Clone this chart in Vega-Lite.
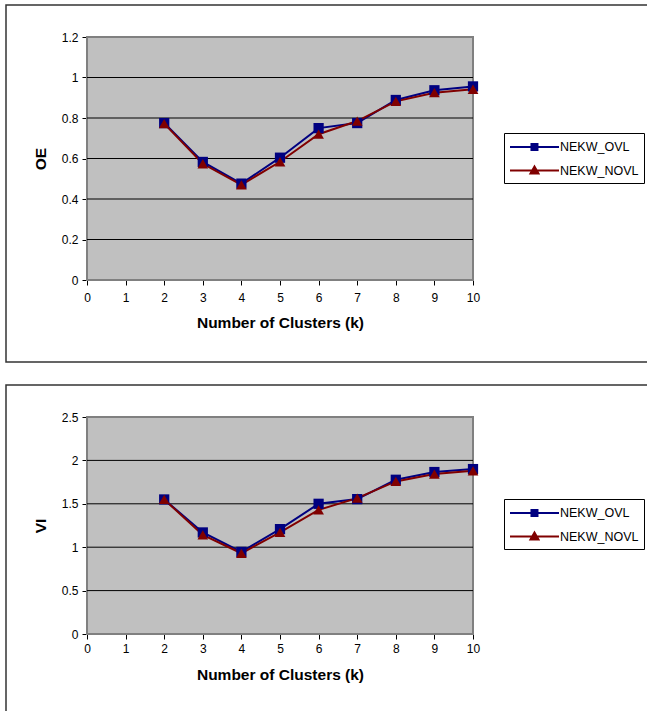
{
  "$schema": "https://vega.github.io/schema/vega-lite/v6.json",
  "padding": {"left": 5, "top": 4, "right": 0, "bottom": 0},
  "spacing": 21,
  "background": "white",
  "config": {
    "view": {"stroke": "#333333", "strokeWidth": 1.5},
    "font": "Liberation Sans",
    "axis": {
      "grid": false,
      "domainColor": "black",
      "domainWidth": 1.2,
      "tickColor": "black",
      "tickSize": 5,
      "labelFlush": false,
      "labelColor": "black",
      "labelFont": "Liberation Sans",
      "labelFontSize": 12,
      "titleColor": "black",
      "titleFont": "Liberation Sans",
      "titleFontSize": 15.5,
      "titleFontWeight": "bold",
      "zindex": 1
    },
    "legend": {
      "orient": "none",
      "strokeColor": "black",
      "fillColor": "white",
      "padding": 5,
      "symbolSize": 256,
      "symbolStrokeWidth": 2,
      "symbolOpacity": 1,
      "labelFont": "Liberation Sans",
      "labelFontSize": 12.5,
      "labelColor": "black",
      "labelOffset": 33,
      "rowPadding": 7.6
    }
  },
  "datasets": {
    "clusters": [
      {"k": 2, "series": "NEKW_OVL", "OE": 0.775, "VI": 1.55},
      {"k": 3, "series": "NEKW_OVL", "OE": 0.583, "VI": 1.17},
      {"k": 4, "series": "NEKW_OVL", "OE": 0.476, "VI": 0.946},
      {"k": 5, "series": "NEKW_OVL", "OE": 0.604, "VI": 1.208},
      {"k": 6, "series": "NEKW_OVL", "OE": 0.75, "VI": 1.5},
      {"k": 7, "series": "NEKW_OVL", "OE": 0.775, "VI": 1.554},
      {"k": 8, "series": "NEKW_OVL", "OE": 0.889, "VI": 1.777},
      {"k": 9, "series": "NEKW_OVL", "OE": 0.937, "VI": 1.866},
      {"k": 10, "series": "NEKW_OVL", "OE": 0.956, "VI": 1.9},
      {"k": 2, "series": "NEKW_NOVL", "OE": 0.772, "VI": 1.55},
      {"k": 3, "series": "NEKW_NOVL", "OE": 0.574, "VI": 1.142},
      {"k": 4, "series": "NEKW_NOVL", "OE": 0.47, "VI": 0.93},
      {"k": 5, "series": "NEKW_NOVL", "OE": 0.584, "VI": 1.17},
      {"k": 6, "series": "NEKW_NOVL", "OE": 0.72, "VI": 1.43},
      {"k": 7, "series": "NEKW_NOVL", "OE": 0.785, "VI": 1.565},
      {"k": 8, "series": "NEKW_NOVL", "OE": 0.882, "VI": 1.758},
      {"k": 9, "series": "NEKW_NOVL", "OE": 0.925, "VI": 1.843},
      {"k": 10, "series": "NEKW_NOVL", "OE": 0.942, "VI": 1.88}
    ]
  },
  "resolve": {
    "scale": {"color": "independent", "shape": "independent"},
    "legend": {"color": "independent", "shape": "independent"}
  },
  "vconcat": [
    {
      "width": 643,
      "height": 357,
      "data": {"name": "clusters"},
      "layer": [
        {
          "data": {"values": [{}]},
          "mark": {"type": "rect", "fill": "#c0c0c0", "stroke": "#808080", "strokeWidth": 2},
          "encoding": {
            "x": {"datum": 0, "type": "quantitative", "scale": {"domain": [0, 10], "range": [81, 467], "nice": false, "zero": false}},
            "x2": {"datum": 10},
            "y": {"datum": 0, "type": "quantitative", "scale": {"domain": [0, 1.2], "range": [275, 32], "nice": false, "zero": false}},
            "y2": {"datum": 1.2}
          }
        },
        {
          "data": {"values": [{"g": 0.2}, {"g": 0.4}, {"g": 0.6}, {"g": 0.8}, {"g": 1.0}]},
          "mark": {"type": "rule", "color": "black", "strokeWidth": 1},
          "encoding": {
            "x": {"datum": 0, "type": "quantitative", "scale": {"domain": [0, 10], "range": [81, 467], "nice": false, "zero": false}},
            "x2": {"datum": 10},
            "y": {"field": "g", "type": "quantitative", "scale": {"domain": [0, 1.2], "range": [275, 32], "nice": false, "zero": false}}
          }
        },
        {
          "transform": [{"filter": "datum.series == 'NEKW_OVL'"}],
          "mark": {"type": "line", "strokeWidth": 2, "color": "#000080"},
          "encoding": {
            "x": {"field": "k", "type": "quantitative", "scale": {"domain": [0, 10], "range": [81, 467], "nice": false, "zero": false},
              "axis": {"title": "Number of Clusters (k)", "values": [0, 1, 2, 3, 4, 5, 6, 7, 8, 9, 10], "format": "d", "offset": -82, "labelPadding": 7, "titlePadding": 12}},
            "y": {"field": "OE", "type": "quantitative", "scale": {"domain": [0, 1.2], "range": [275, 32], "nice": false, "zero": false},
              "axis": {"title": "OE", "values": [0, 0.2, 0.4, 0.6, 0.8, 1, 1.2], "format": "~g", "offset": -81, "labelPadding": 4, "titlePadding": 13}},
            "order": {"field": "k", "type": "quantitative"}
          }
        },
        {
          "transform": [{"filter": "datum.series == 'NEKW_NOVL'"}],
          "mark": {"type": "line", "strokeWidth": 2, "color": "#800000"},
          "encoding": {
            "x": {"field": "k", "type": "quantitative", "scale": {"domain": [0, 10], "range": [81, 467], "nice": false, "zero": false}},
            "y": {"field": "OE", "type": "quantitative", "scale": {"domain": [0, 1.2], "range": [275, 32], "nice": false, "zero": false}},
            "order": {"field": "k", "type": "quantitative"}
          }
        },
        {
          "transform": [{"filter": "datum.series == 'NEKW_OVL'"}],
          "mark": {"type": "square", "filled": true, "opacity": 1, "size": 105, "color": "#000080"},
          "encoding": {
            "x": {"field": "k", "type": "quantitative", "scale": {"domain": [0, 10], "range": [81, 467], "nice": false, "zero": false}},
            "y": {"field": "OE", "type": "quantitative", "scale": {"domain": [0, 1.2], "range": [275, 32], "nice": false, "zero": false}}
          }
        },
        {
          "transform": [{"filter": "datum.series == 'NEKW_NOVL'"}],
          "mark": {"type": "point", "shape": "triangle-up", "filled": true, "opacity": 1, "size": 115, "color": "#800000"},
          "encoding": {
            "x": {"field": "k", "type": "quantitative", "scale": {"domain": [0, 10], "range": [81, 467], "nice": false, "zero": false}},
            "y": {"field": "OE", "type": "quantitative", "scale": {"domain": [0, 1.2], "range": [275, 32], "nice": false, "zero": false}}
          }
        },
        {
          "mark": {"type": "point", "filled": false, "opacity": 0, "strokeWidth": 2},
          "encoding": {
            "x": {"field": "k", "type": "quantitative", "scale": {"domain": [0, 10], "range": [81, 467], "nice": false, "zero": false}},
            "y": {"field": "OE", "type": "quantitative", "scale": {"domain": [0, 1.2], "range": [275, 32], "nice": false, "zero": false}},
            "color": {"field": "series", "type": "nominal", "scale": {"domain": ["NEKW_OVL", "NEKW_NOVL"], "range": ["#000080", "#800000"]},
              "legend": {"title": null, "legendX": 498, "legendY": 128}},
            "shape": {"field": "series", "type": "nominal",
              "scale": {"domain": ["NEKW_OVL", "NEKW_NOVL"], "range": [
                "M-1,0H5.125M1.685,-0.375H2.435V0.375H1.685ZM1.685,-0.1875H2.435M1.685,0.1875H2.435",
                "M-1,0H5.125M2.06,-0.5L2.56,0.375H1.56ZM1.881,-0.1875H2.239M1.667,0.1875H2.453"]},
              "legend": {"title": null, "legendX": 498, "legendY": 128}}
          }
        }
      ]
    },
    {
      "width": 643,
      "height": 330,
      "data": {"name": "clusters"},
      "layer": [
        {
          "data": {"values": [{}]},
          "mark": {"type": "rect", "fill": "#c0c0c0", "stroke": "#808080", "strokeWidth": 2},
          "encoding": {
            "x": {"datum": 0, "type": "quantitative", "scale": {"domain": [0, 10], "range": [81, 467], "nice": false, "zero": false}},
            "x2": {"datum": 10},
            "y": {"datum": 0, "type": "quantitative", "scale": {"domain": [0, 2.5], "range": [249, 32], "nice": false, "zero": false}},
            "y2": {"datum": 2.5}
          }
        },
        {
          "data": {"values": [{"g": 0.5}, {"g": 1.0}, {"g": 1.5}, {"g": 2.0}]},
          "mark": {"type": "rule", "color": "black", "strokeWidth": 1},
          "encoding": {
            "x": {"datum": 0, "type": "quantitative", "scale": {"domain": [0, 10], "range": [81, 467], "nice": false, "zero": false}},
            "x2": {"datum": 10},
            "y": {"field": "g", "type": "quantitative", "scale": {"domain": [0, 2.5], "range": [249, 32], "nice": false, "zero": false}}
          }
        },
        {
          "transform": [{"filter": "datum.series == 'NEKW_OVL'"}],
          "mark": {"type": "line", "strokeWidth": 2, "color": "#000080"},
          "encoding": {
            "x": {"field": "k", "type": "quantitative", "scale": {"domain": [0, 10], "range": [81, 467], "nice": false, "zero": false},
              "axis": {"title": "Number of Clusters (k)", "values": [0, 1, 2, 3, 4, 5, 6, 7, 8, 9, 10], "format": "d", "offset": -81, "labelPadding": 4, "titlePadding": 13}},
            "y": {"field": "VI", "type": "quantitative", "scale": {"domain": [0, 2.5], "range": [249, 32], "nice": false, "zero": false},
              "axis": {"title": "VI", "values": [0, 0.5, 1, 1.5, 2, 2.5], "format": "~g", "offset": -81, "labelPadding": 4, "titlePadding": 13}},
            "order": {"field": "k", "type": "quantitative"}
          }
        },
        {
          "transform": [{"filter": "datum.series == 'NEKW_NOVL'"}],
          "mark": {"type": "line", "strokeWidth": 2, "color": "#800000"},
          "encoding": {
            "x": {"field": "k", "type": "quantitative", "scale": {"domain": [0, 10], "range": [81, 467], "nice": false, "zero": false}},
            "y": {"field": "VI", "type": "quantitative", "scale": {"domain": [0, 2.5], "range": [249, 32], "nice": false, "zero": false}},
            "order": {"field": "k", "type": "quantitative"}
          }
        },
        {
          "transform": [{"filter": "datum.series == 'NEKW_OVL'"}],
          "mark": {"type": "square", "filled": true, "opacity": 1, "size": 105, "color": "#000080"},
          "encoding": {
            "x": {"field": "k", "type": "quantitative", "scale": {"domain": [0, 10], "range": [81, 467], "nice": false, "zero": false}},
            "y": {"field": "VI", "type": "quantitative", "scale": {"domain": [0, 2.5], "range": [249, 32], "nice": false, "zero": false}}
          }
        },
        {
          "transform": [{"filter": "datum.series == 'NEKW_NOVL'"}],
          "mark": {"type": "point", "shape": "triangle-up", "filled": true, "opacity": 1, "size": 115, "color": "#800000"},
          "encoding": {
            "x": {"field": "k", "type": "quantitative", "scale": {"domain": [0, 10], "range": [81, 467], "nice": false, "zero": false}},
            "y": {"field": "VI", "type": "quantitative", "scale": {"domain": [0, 2.5], "range": [249, 32], "nice": false, "zero": false}}
          }
        },
        {
          "mark": {"type": "point", "filled": false, "opacity": 0, "strokeWidth": 2},
          "encoding": {
            "x": {"field": "k", "type": "quantitative", "scale": {"domain": [0, 10], "range": [81, 467], "nice": false, "zero": false}},
            "y": {"field": "VI", "type": "quantitative", "scale": {"domain": [0, 2.5], "range": [249, 32], "nice": false, "zero": false}},
            "color": {"field": "series", "type": "nominal", "scale": {"domain": ["NEKW_OVL", "NEKW_NOVL"], "range": ["#000080", "#800000"]},
              "legend": {"title": null, "legendX": 498, "legendY": 114}},
            "shape": {"field": "series", "type": "nominal",
              "scale": {"domain": ["NEKW_OVL", "NEKW_NOVL"], "range": [
                "M-1,0H5.125M1.685,-0.375H2.435V0.375H1.685ZM1.685,-0.1875H2.435M1.685,0.1875H2.435",
                "M-1,0H5.125M2.06,-0.5L2.56,0.375H1.56ZM1.881,-0.1875H2.239M1.667,0.1875H2.453"]},
              "legend": {"title": null, "legendX": 498, "legendY": 114}}
          }
        }
      ]
    }
  ]
}
